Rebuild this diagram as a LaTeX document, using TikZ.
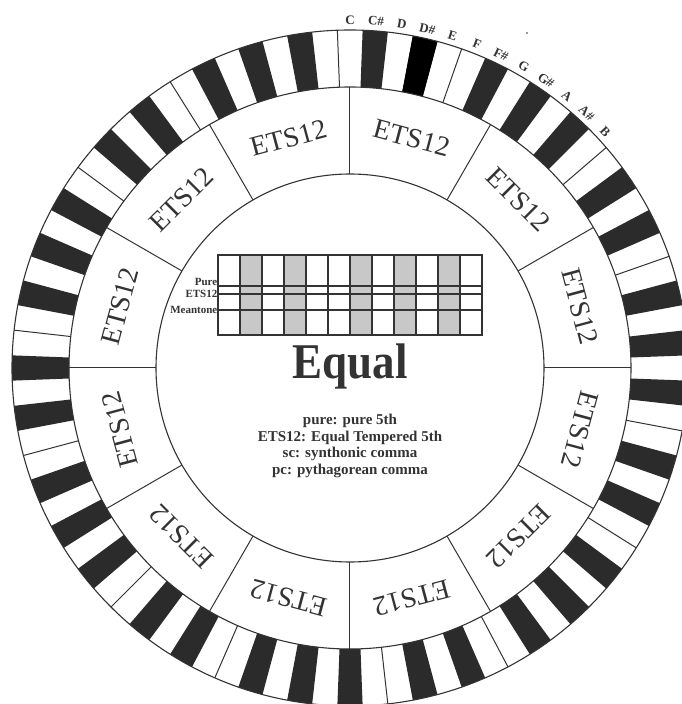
\documentclass[tikz,border=0pt]{standalone}
\usepackage{fontspec}
\setmainfont{Liberation Serif}
\usepackage{xcolor}
\usetikzlibrary{positioning}
\definecolor{keyblack}{RGB}{43, 43, 43}
\definecolor{inkgray}{RGB}{51, 51, 51}
\definecolor{columngray}{RGB}{200, 200, 200}

\begin{document}
\begin{tikzpicture}[
    x=1pt, y=1pt,
    ring/.style={draw=inkgray, line width=1.1pt},
    divider/.style={draw=inkgray, line width=1pt},
    gridline/.style={draw=inkgray, line width=1.3pt},
    notename/.style={font=\bfseries\fontsize{13}{13}\selectfont, text=inkgray, inner sep=0pt},
    tuning/.style={font=\fontsize{28}{28}\selectfont, text=inkgray, inner sep=0pt},
    rowlabel/.style={font=\bfseries\fontsize{11}{11}\selectfont, text=inkgray, inner sep=0.5pt},
    title/.style={font=\bfseries\fontsize{50}{50}\selectfont, text=inkgray, inner sep=0pt, xscale=0.9},
    legend/.style={font=\bfseries\fontsize{15}{16.5}\selectfont, text=inkgray, align=center, inner sep=0pt}
]
    \useasboundingbox (-350,-336) rectangle (331,368);

    % keyboard ring, 7 octaves
    \foreach \o in {0,...,6}
      \foreach \n in {1,3,6,8,10} {
        \pgfmathsetmacro\a{90-(12*\o+\n)*(360/84)}
        \fill[keyblack] (\a+2.143:281) arc[start angle=\a+2.143, end angle=\a-2.143, radius=281]
            -- (\a-2.143:338) arc[start angle=\a-2.143, end angle=\a+2.143, radius=338] -- cycle;
      }
    \pgfmathsetmacro\a{90-3*(360/84)}
    \fill[black] (\a+2.143:281) arc[start angle=\a+2.143, end angle=\a-2.143, radius=281]
        -- (\a-2.143:338) arc[start angle=\a-2.143, end angle=\a+2.143, radius=338] -- cycle;
    \foreach \o in {0,...,6}
      \foreach \n in {0,5} {
        \pgfmathsetmacro\a{90-(12*\o+\n)*(360/84)+2.143}
        \draw[divider] (\a:281) -- (\a:338);
      }
    \draw[ring] (0,0) circle[radius=338];
    \draw[ring] (0,0) circle[radius=281];
    \draw[ring] (0,0) circle[radius=194];

    % note names
    \foreach \n/\name in {0/C, 1/C\#, 2/D, 3/D\#, 4/E, 5/F, 6/F\#, 7/G, 8/G\#, 9/A, 10/A\#, 11/B} {
        \pgfmathsetmacro\a{90-\n*(360/84)}
        \node[notename, rotate=\a-90] (note\n) at (\a:348) {\name};
    }
    \fill[inkgray] (177,335) circle[radius=0.9];

    % fifths
    \foreach \i in {0,...,11} {
        \draw[divider] (\i*30:194) -- (\i*30:281);
        \node[tuning, rotate=\i*30+15-90] (fifth\i) at (\i*30+15:238) {ETS12};
    }

    % deviation grid
    \foreach \c in {1,3,6,8,10}
        \fill[columngray] (-132+\c*22,33) rectangle ++(22,80);
    \foreach \c in {1,...,11}
        \draw[gridline] (-132+\c*22,33) -- ++(0,80);
    \foreach \y in {82,74,58}
        \draw[gridline] (-132,\y) -- (132,\y);
    \draw[gridline] (-132,33) rectangle (132,113);
    \coordinate (pure) at (-132,82);
    \coordinate (ets) at (-132,74);
    \coordinate (meantone) at (-132,58);
    \node[rowlabel, anchor=south east] (purelabel) at (pure) {Pure};
    \node[rowlabel, anchor=east] (etslabel) at (ets) {ETS12};
    \node[rowlabel, anchor=east] (meantonelabel) at (meantone) {Meantone};

    \node[title, anchor=base] (temperament) at (0,-10) {Equal};
    \node[legend, anchor=north] (key) at (0,-46) {pure: pure 5th\\ETS12: Equal Tempered 5th\\sc: synthonic comma\\pc: pythagorean comma};
\end{tikzpicture}
\end{document}
